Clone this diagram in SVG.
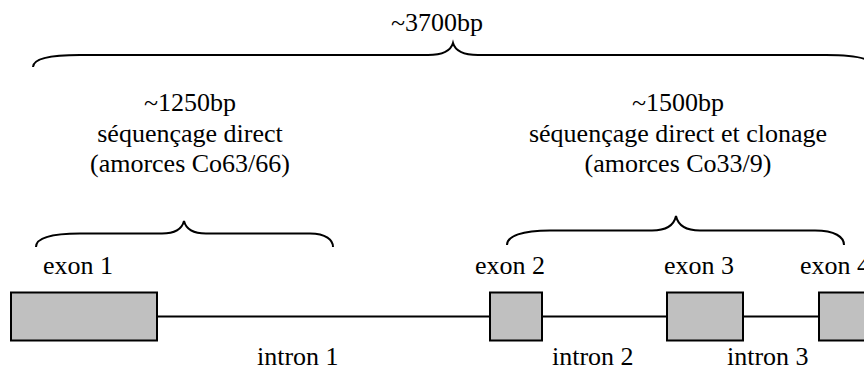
<svg xmlns="http://www.w3.org/2000/svg" width="864" height="370" viewBox="0 0 864 370">
<style>
.t{font-family:'Liberation Serif','Times New Roman',Times,serif;font-size:26px;fill:#000}
.c{text-anchor:middle}
.brace{fill:none;stroke:#000;stroke-width:2}
.exon{fill:#c0c0c0;stroke:#000;stroke-width:2}
.intron{stroke:#000;stroke-width:2}
</style>
<rect width="864" height="370" fill="#fff"/>
<g id="connectors">
<line class="intron" x1="157" y1="316.5" x2="819" y2="316.5"/>
</g>
<g font-family="Liberation Serif, serif" font-size="26">
<g id="brace-total">
<path class="brace" d="M33,67 C33,59 50,55 80,55 L428,55 C444,55 451,50 453,43 C455,50 462,55 478,55 L826,55 C856,55 873,59 873,67"/>
<text class="t c" x="437" y="31">~3700bp</text>
</g>
<g id="brace-left">
<path class="brace" d="M36,247 C36,238 50,233.5 80,233.5 L162,233.5 C176,233.5 182,229 184,221 C186,229 192,233.5 206,233.5 L310,233.5 C326,233.5 333,240 333,247"/>
<text class="t c" x="190" y="111">~1250bp</text>
<text class="t c" x="190" y="142">séquençage direct</text>
<text class="t c" x="190" y="172">(amorces Co63/66)</text>
</g>
<g id="brace-right">
<path class="brace" d="M507,245 C507,236 522,230.5 550,230.5 L652,230.5 C667,230.5 674,225 676,216 C678,225 685,230.5 700,230.5 L815,230.5 C835,230.5 844,237 844,245"/>
<text class="t c" x="678" y="111">~1500bp</text>
<text class="t c" x="678" y="142">séquençage direct et clonage</text>
<text class="t c" x="678" y="172">(amorces Co33/9)</text>
</g>
<g id="exon1">
<rect class="exon" x="11" y="292.5" width="146" height="48"/>
<text class="t" x="43" y="274">exon 1</text>
</g>
<g id="exon2">
<rect class="exon" x="490" y="292.5" width="52" height="48"/>
<text class="t" x="475" y="274">exon 2</text>
</g>
<g id="exon3">
<rect class="exon" x="667" y="292.5" width="76" height="48"/>
<text class="t" x="664" y="274">exon 3</text>
</g>
<g id="exon4">
<rect class="exon" x="819" y="292.5" width="60" height="48"/>
<text class="t" x="800" y="274">exon 4</text>
</g>
<g id="intron1"><text class="t" x="257" y="365">intron 1</text></g>
<g id="intron2"><text class="t" x="552" y="365">intron 2</text></g>
<g id="intron3"><text class="t" x="727" y="365">intron 3</text></g>
</g>
</svg>
